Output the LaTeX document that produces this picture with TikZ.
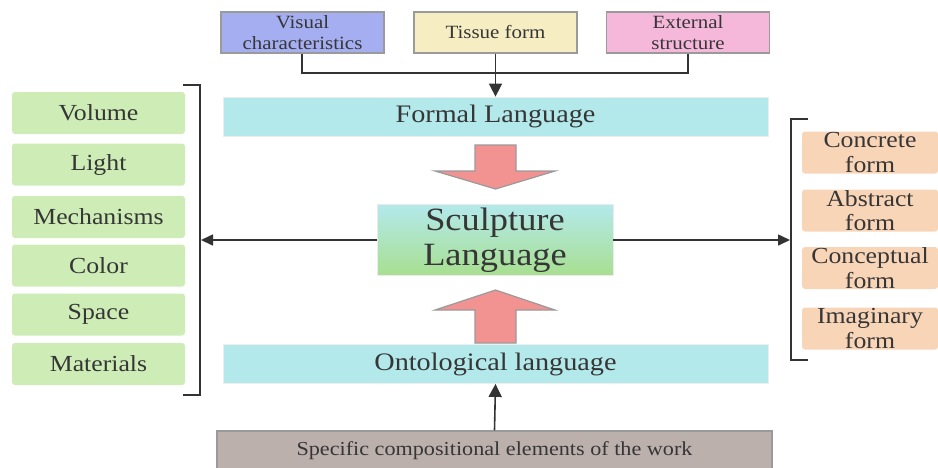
\documentclass[tikz,border=0pt]{standalone}
\usepackage{fontspec}
\setmainfont[FakeStretch=1.12]{Liberation Serif}
\usetikzlibrary{arrows.meta}
\definecolor{txt}{HTML}{363636}
\definecolor{visc}{HTML}{A4AEF0}
\definecolor{tisc}{HTML}{F6EDC2}
\definecolor{extc}{HTML}{F5B8DA}
\definecolor{cyanc}{HTML}{B3E9EB}
\definecolor{sgreen}{HTML}{A8DF90}
\definecolor{greenc}{HTML}{CDECB6}
\definecolor{orangec}{HTML}{F9D5B8}
\definecolor{botc}{HTML}{BCB0AC}
\definecolor{arrc}{HTML}{F29391}
\definecolor{bordc}{HTML}{9A9A9A}
\definecolor{linec}{HTML}{333333}
\tikzset{
  topbox/.style={draw=bordc, line width=1.5pt, minimum width=163pt, minimum height=41pt, inner sep=0pt, align=center, text=txt, font=\fontsize{18.7}{21}\selectfont},
  langbox/.style={draw=black!7, line width=0.8pt, fill=cyanc, minimum width=545pt, minimum height=39pt, inner sep=0pt, text=txt, font=\fontsize{25.2}{28}\selectfont},
  leftbox/.style={fill=greenc, rounded corners=3pt, minimum width=173pt, minimum height=42pt, inner sep=0pt, text=txt, font=\fontsize{23}{26}\selectfont},
  rightbox/.style={fill=orangec, rounded corners=3pt, minimum width=136pt, minimum height=42pt, inner sep=0pt, align=center, text=txt, font=\fontsize{23}{24.5}\selectfont},
  sculptbox/.style={draw=black!8, line width=0.8pt, top color=cyanc, bottom color=sgreen, minimum width=236pt, minimum height=71pt, inner sep=0pt, align=center, text=txt, font=\fontsize{32.5}{35}\selectfont},
  botbox/.style={draw=bordc, line width=1.5pt, fill=botc, minimum width=555pt, minimum height=40pt, inner sep=0pt, text=txt, font=\fontsize{19.8}{22}\selectfont},
  conn/.style={draw=linec, line width=1.6pt},
  tipped/.style={-{Triangle[length=13pt,width=13pt]}},
  bracket/.style={draw=linec, line width=1.8pt},
  blockarrow/.style={fill=arrc, draw=bordc, line width=1.2pt}
}
\begin{document}
\begin{tikzpicture}[x=1pt,y=-1pt]
\useasboundingbox (0,0) rectangle (938,467);
% top boxes
\node[topbox, fill=visc] (vis) at (302.5,32.5) {Visual\\characteristics};
\node[topbox, fill=tisc] (tis) at (495.5,32.5) {Tissue form};
\node[topbox, fill=extc] (ext) at (688,32.5) {External\\structure};
% language boxes
\node[langbox] (formal) at (495.5,116.5) {Formal Language};
\node[langbox] (onto) at (495.5,364) {Ontological language};
\node[sculptbox] (sculpt) at (495,240) {Sculpture\\Language};
\node[botbox] (bot) at (494.5,451) {Specific compositional elements of the work};
% left boxes
\node[leftbox] (vol) at (98.5,113) {Volume};
\node[leftbox] (light) at (98.5,164.5) {Light};
\node[leftbox] (mech) at (98.5,217) {Mechanisms};
\node[leftbox] (col) at (98.5,265.5) {Color};
\node[leftbox] (spa) at (98.5,314.5) {Space};
\node[leftbox] (mat) at (98.5,364) {Materials};
% right boxes
\node[rightbox] (conc) at (870,152.5) {Concrete\\form};
\node[rightbox] (abst) at (870,210.5) {Abstract\\form};
\node[rightbox] (conc2) at (870,268) {Conceptual\\form};
\node[rightbox] (imag) at (870,328.5) {Imaginary\\form};
% top connectors
\coordinate (jl) at (302,73);
\coordinate (jr) at (688,73);
\draw[conn] (vis.south -| jl) -- (jl) -- (jr) -- (ext.south -| jr);
\draw[conn, tipped] (tis.south) -- (formal.north);
% bottom connector
\draw[conn, tipped] (bot.north) -- (onto.south);
% brackets
\coordinate (lbt) at (200,85);
\coordinate (lbb) at (200,395);
\draw[bracket] (183,85) -- (lbt) -- (lbb) -- (183,395);
\coordinate (rbt) at (791,119);
\coordinate (rbb) at (791,360);
\draw[bracket] (808,119) -- (rbt) -- (rbb) -- (808,360);
\coordinate (lbm) at (201,240);
\coordinate (rbm) at (790,240);
\draw[conn, -{Triangle[length=12pt,width=11pt]}] (sculpt.west) -- (lbm);
\draw[conn, -{Triangle[length=12pt,width=11pt]}] (sculpt.east) -- (rbm);
% block arrows
\draw[blockarrow] (475,145) -- (516,145) -- (516,171) -- (555,171) -- (495.5,189) -- (435,171) -- (475,171) -- cycle;
\draw[blockarrow] (475,343) -- (516,343) -- (516,310) -- (555,310) -- (495.5,290) -- (435,310) -- (475,310) -- cycle;
\end{tikzpicture}
\end{document}
